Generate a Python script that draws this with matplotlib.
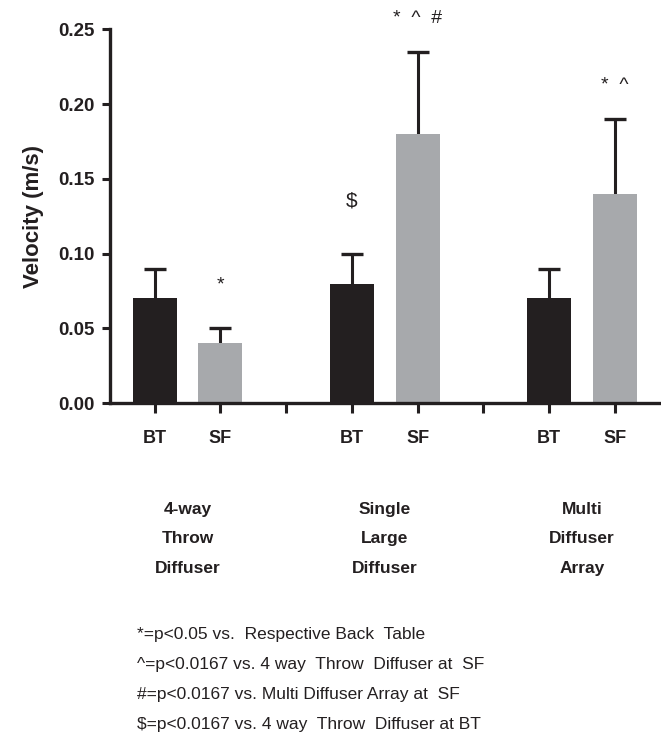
import numpy as np
import matplotlib.pyplot as plt

plt.rcParams['font.family'] = ['Liberation Sans', 'DejaVu Sans']

# data
groups = ['4-way\nThrow\nDiffuser', 'Single\nLarge\nDiffuser', 'Multi\nDiffuser\nArray']
bt_mean = [0.07, 0.08, 0.07]
bt_err = [0.02, 0.02, 0.02]
sf_mean = [0.04, 0.18, 0.14]
sf_err = [0.01, 0.055, 0.05]
sf_marks = ['*', '*  ^  #', '*  ^']
bt_marks = ['', '$', '']
notes = ['*=p<0.05 vs.  Respective Back  Table',
         '^=p<0.0167 vs. 4 way  Throw  Diffuser at  SF',
         '#=p<0.0167 vs. Multi Diffuser Array at  SF',
         '$=p<0.0167 vs. 4 way  Throw  Diffuser at BT']

black = '#231f20'
grey = '#a7a9ac'

fig = plt.figure(figsize=(6.61, 7.33), dpi=100)
ax = fig.add_axes([0.1664, 0.450, 0.8336, 0.510])

x_bt = np.arange(3) * 3
x_sf = x_bt + 1
w = 0.67

def bars(x, m, e, c):
    ax.errorbar(x, m, yerr=[np.zeros(3), e], fmt='none', ecolor=black,
                elinewidth=2.2, capsize=0, zorder=1)
    ax.plot(x, np.array(m) + np.array(e), ls='none', marker='_', ms=16,
            mew=2.4, color=black, zorder=1)
    ax.bar(x, m, w, color=c, zorder=2)

bars(x_bt, bt_mean, bt_err, black)
bars(x_sf, sf_mean, sf_err, grey)

# significance marks (gap above the error bar, in points)
sf_gap = [31, 24, 24]
bt_gap = [0, 38, 0]
for i in range(3):
    if sf_marks[i]:
        ax.annotate(sf_marks[i], (x_sf[i], sf_mean[i] + sf_err[i]),
                    xytext=(0, sf_gap[i]), textcoords='offset points',
                    ha='center', va='center', fontsize=14, color=black)
    if bt_marks[i]:
        ax.annotate(bt_marks[i], (x_bt[i], bt_mean[i] + bt_err[i]),
                    xytext=(0, bt_gap[i]), textcoords='offset points',
                    ha='center', va='center', fontsize=15, color=black)

ax.set_xlim(-0.68, 7.7)
ax.set_ylim(0, 0.25)
ax.set_yticks([0, 0.05, 0.10, 0.15, 0.20, 0.25])
ax.set_yticklabels(['0.00', '0.05', '0.10', '0.15', '0.20', '0.25'],
                   fontsize=13.5, fontweight='bold')
ax.set_xticks(np.arange(8))
ax.set_xticklabels(['BT', 'SF', '', 'BT', 'SF', '', 'BT', 'SF'],
                   fontsize=13, fontweight='bold')
ax.tick_params(axis='y', width=2.2, length=6, pad=5, colors=black)
ax.tick_params(axis='x', width=2.2, length=7, pad=12, colors=black)
for s in ['top', 'right']:
    ax.spines[s].set_visible(False)
for s in ['left', 'bottom']:
    ax.spines[s].set_linewidth(2.4)
    ax.spines[s].set_color(black)
ax.set_ylabel('Velocity (m/s)', fontsize=16, fontweight='bold', labelpad=10,
              color=black)

# group labels under the pairs
for i, g in enumerate(groups):
    ax.annotate(g, ((x_bt[i] + x_sf[i]) / 2, 1 - 502 / 733),
                xycoords=('data', 'figure fraction'), ha='center', va='top',
                fontsize=12.5, fontweight='bold', linespacing=2.2, color=black)

# footnotes
for k, n in enumerate(notes):
    fig.text(137 / 661, 1 - (634 + 30 * k) / 733, n, ha='left', va='center',
             fontsize=12.5, color=black)

fig.savefig('out.png', dpi=100)
